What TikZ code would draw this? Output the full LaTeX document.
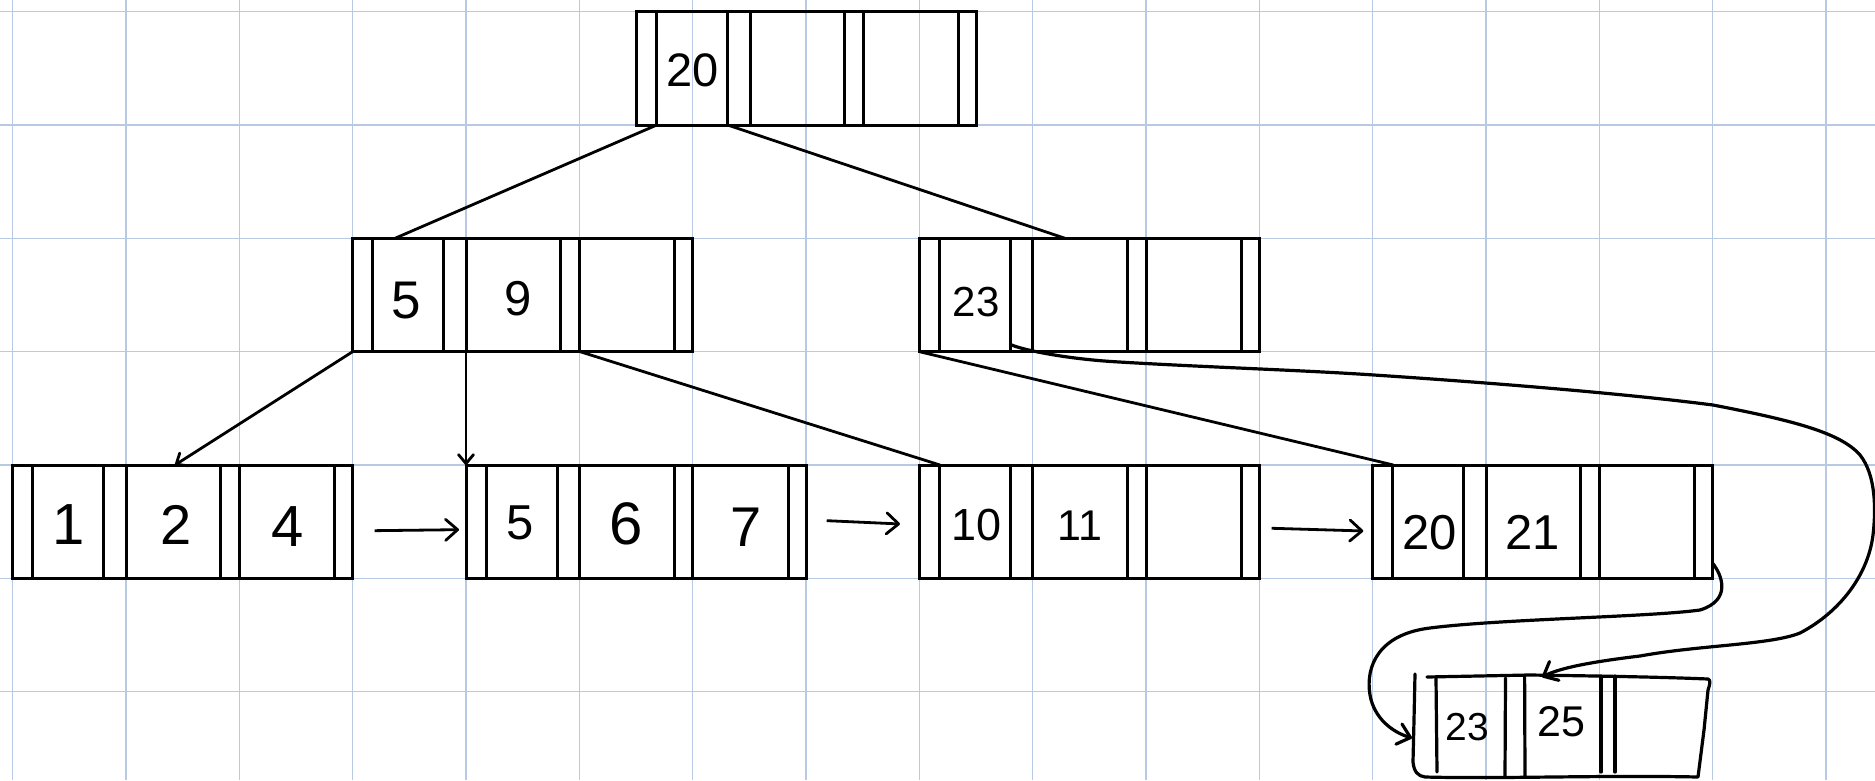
\documentclass[tikz,border=0pt]{standalone}
\usepackage{fontspec}
\setmainfont{Liberation Sans}
\usetikzlibrary{arrows.meta}
\definecolor{gridblue}{RGB}{184,201,228}
\tikzset{
  gridline/.style={draw=gridblue, line width=1.4pt},
  bbox/.style={draw, line width=3pt, minimum width=340pt, minimum height=113.33pt, inner sep=0pt, outer sep=0pt},
  sepline/.style={line width=3pt},
  digit/.style={font=\fontsize{#1pt}{#1pt}\selectfont, inner sep=0pt},
  conn/.style={line width=2.8pt},
  smallhead/.style={-{Straight Barb[length=9pt,width=15pt,round]}},
  bighead/.style={-{Straight Barb[length=12pt,width=21pt,round]}},
  curvy/.style={line width=3.2pt, line cap=round, line join=round},
}
\newcommand\bpnode[3]{%
  \node[bbox] (#1) at (#2+170,#3+56.67) {};
  \foreach \o in {20,91,113.3,208,226.7,322}{%
    \draw[sepline] ([xshift=\o pt]#1.north west) -- ([xshift=\o pt]#1.south west);}%
}
\begin{document}
\begin{tikzpicture}[x=1pt,y=-1pt]
\useasboundingbox (0,0) rectangle (1875,780);
% grid paper
\foreach \i in {0,...,16}{\draw[gridline] (12.7+113.33*\i,0) -- (12.7+113.33*\i,780);}
\foreach \j in {0,...,6}{\draw[gridline] (0,11.7+113.33*\j) -- (1875,11.7+113.33*\j);}

% B+ tree nodes
\bpnode{root}{636.7}{11.7}
\bpnode{n2a}{352.7}{238.3}
\bpnode{n2b}{919.3}{238.3}
\bpnode{l1}{12.7}{465}
\bpnode{l2}{466}{465}
\bpnode{l3}{919.3}{465}
\bpnode{l4}{1372.7}{465}

% keys
\node[digit=47] (rk1) at ([xshift=56pt,yshift=-2pt]root.west) {20};
\node[digit=53] (ak1) at ([xshift=54pt,yshift=-6pt]n2a.west) {5};
\node[digit=49] (ak2) at ([xshift=165pt,yshift=-4pt]n2a.west) {9};
\node[digit=42] (bk1) at ([xshift=57pt,yshift=-7pt]n2b.west) {23};
\node[digit=58] (l1k1) at ([xshift=56pt,yshift=-3pt]l1.west) {1};
\node[digit=56] (l1k2) at ([xshift=163pt,yshift=-3pt]l1.west) {2};
\node[digit=58] (l1k3) at ([xshift=275pt,yshift=-5pt]l1.west) {4};
\node[digit=49] (l2k1) at ([xshift=54pt,yshift=-1pt]l2.west) {5};
\node[digit=60] (l2k2) at ([xshift=160pt,yshift=-2pt]l2.west) {6};
\node[digit=56] (l2k3) at ([xshift=280pt,yshift=-6pt]l2.west) {7};
\node[digit=45] (l3k1) at ([xshift=57pt,yshift=-3pt]l3.west) {10};
\node[digit=43] (l3k2) at ([xshift=161pt,yshift=-4pt]l3.west) {11};
\node[digit=49] (l4k1) at ([xshift=57pt,yshift=-11pt]l4.west) {20};
\node[digit=49] (l4k2) at ([xshift=160pt,yshift=-11pt]l4.west) {21};

% hand-drawn new leaf
\coordinate (l5) at (1415,677);
\draw[curvy] ([yshift=3pt]l5) -- (1414,720) -- (1413,762) .. controls (1414,772) and (1418,776) .. (1425,777)
  .. controls (1500,779) and (1600,775) .. (1698,777) -- (1704,730) -- (1708,690)
  .. controls (1710,684) and (1711,680) .. (1708,679)
  .. controls (1660,677) and (1600,676) .. (1530,675) -- (1427,677);
\draw[curvy] ([xshift=21pt,yshift=-1pt]l5) -- ([xshift=22pt,yshift=-95pt]l5);
\draw[curvy] ([xshift=90.5pt,yshift=-1pt]l5) -- ([xshift=90pt,yshift=-100pt]l5);
\draw[curvy] ([xshift=109.6pt,yshift=2pt]l5) -- ([xshift=110pt,yshift=-100pt]l5);
\draw[curvy] ([xshift=186pt,yshift=1pt]l5) -- ([xshift=186pt,yshift=-95pt]l5);
\draw[curvy] ([xshift=200pt,yshift=1pt]l5) -- ([xshift=200pt,yshift=-95pt]l5);
\node[digit=39] (l5k1) at ([xshift=52pt,yshift=-50pt]l5) {23};
\node[digit=43] (l5k2) at ([xshift=146pt,yshift=-45pt]l5) {25};

% tree edges
\draw[conn] ([xshift=20pt]root.south west) -- ([xshift=42.3pt]n2a.north west);
\draw[conn] ([xshift=91pt]root.south west) -- ([xshift=145.7pt]n2b.north west);
\draw[conn,smallhead] (n2a.south west) -- ([xshift=162.3pt]l1.north west);
\draw[conn,smallhead] ([xshift=113.3pt]n2a.south west) -- (l2.north west);
\draw[conn] ([xshift=227.3pt]n2a.south west) -- ([xshift=20.7pt]l3.north west);
\draw[conn] (n2b.south west) -- ([xshift=20.7pt]l4.north west);

% leaf chain arrows
\draw[conn,bighead] ([xshift=22pt,yshift=-9pt]l1.east) -- ([xshift=-7pt,yshift=-8pt]l2.west);
\draw[conn,bighead] ([xshift=20.7pt,yshift=1pt]l2.east) -- ([xshift=-19.3pt,yshift=-2.3pt]l3.west);
\draw[conn,bighead] ([xshift=12.4pt,yshift=-6.6pt]l3.east) -- ([xshift=-9.4pt,yshift=-9.3pt]l4.west);

% curved pointers to the new leaf
\draw[curvy,bighead] ([xshift=92.4pt,yshift=6.7pt]n2b.south west)
  .. controls (1020,349) and (1060,358) .. (1111,361.5)
  .. controls (1200,367) and (1300,370) .. (1374,375)
  .. controls (1480,382) and (1620,393) .. (1713,405)
  .. controls (1790,420) and (1840,432) .. (1860,455)
  .. controls (1876,475) and (1876,510) .. (1873,535)
  .. controls (1868,575) and (1840,612) .. (1800,633)
  .. controls (1770,645) and (1700,645) .. (1640,656)
  .. controls (1590,662) and (1560,668) .. ([xshift=127pt]l5);
\draw[curvy,bighead] ([yshift=15pt]l4.south east)
  .. controls (1722,575) and (1732,600) .. (1700,610)
  .. controls (1650,617) and (1500,619) .. (1430,628)
  .. controls (1380,634) and (1365,665) .. (1370,695)
  .. controls (1374,718) and (1392,732) .. ([xshift=-3pt,yshift=-61pt]l5);
\end{tikzpicture}
\end{document}
